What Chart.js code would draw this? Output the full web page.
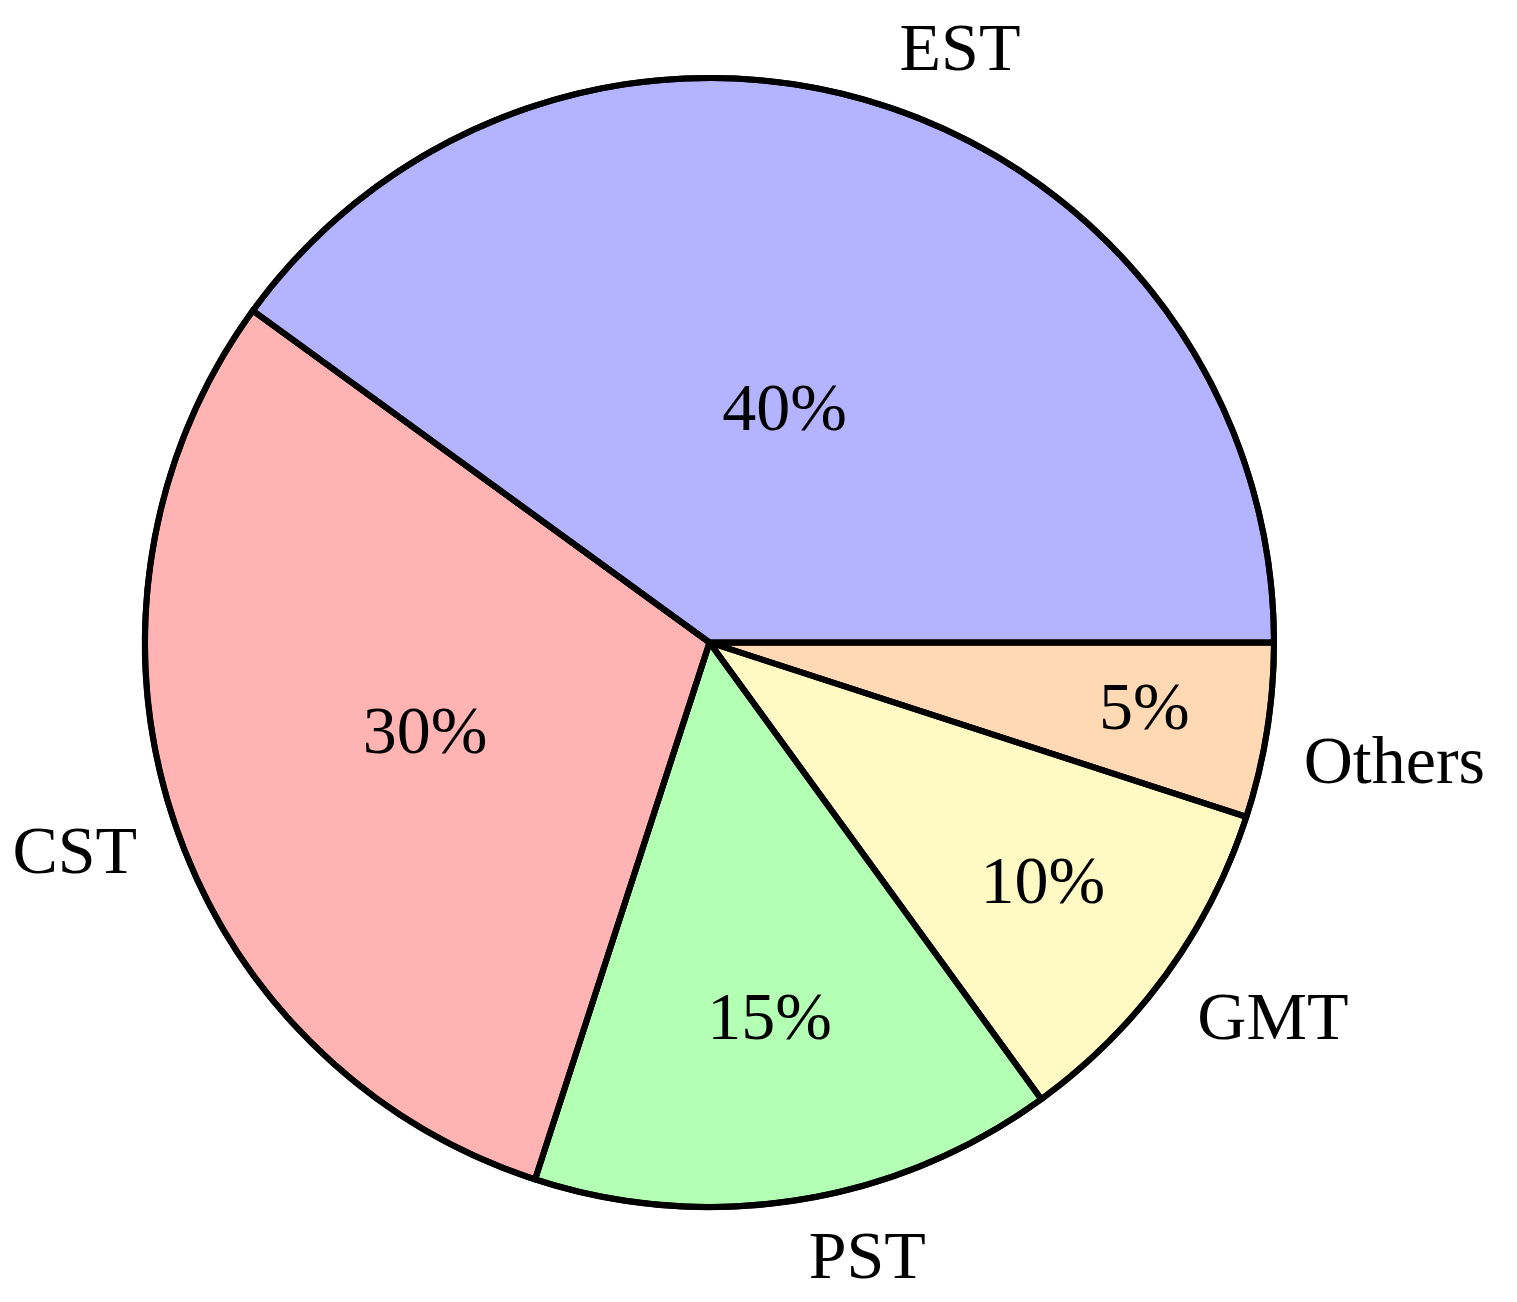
<!DOCTYPE html>
<html>
<head>
<meta charset="utf-8">
<script src="https://cdn.jsdelivr.net/npm/chart.js@4/dist/chart.umd.min.js"></script>
<style>
  html, body { margin: 0; padding: 0; background: #fff; }
  #wrap { width: 1517px; height: 1302px; }
</style>
</head>
<body>
<div id="wrap"><canvas id="pie"></canvas></div>
<script>
// slices listed clockwise from 3 o'clock (reference runs counter-clockwise from EST)
const zones = ['Others', 'GMT', 'PST', 'CST', 'EST'];
const shares = [5, 10, 15, 30, 40];
const fills = ['#ffd9b3', '#fff9c4', '#b3ffb3', '#ffb3b3', '#b3b3ff'];

const FONT = '"Liberation Serif", "DejaVu Serif", serif';

const pieLabels = {
  id: 'pieLabels',
  afterDatasetsDraw(chart) {
    const ctx = chart.ctx;
    const arcs = chart.getDatasetMeta(0).data;
    ctx.save();
    ctx.fillStyle = '#000';
    ctx.font = '68px ' + FONT;
    arcs.forEach((arc, i) => {
      const { x, y, startAngle, endAngle, outerRadius } = arc.getProps(['x', 'y', 'startAngle', 'endAngle', 'outerRadius'], true);
      const mid = (startAngle + endAngle) / 2;
      const c = Math.cos(mid), s = Math.sin(mid);

      // percentage inside the slice
      const k = 0.83 - shares[i] / 100;
      ctx.textAlign = 'center';
      ctx.textBaseline = 'middle';
      ctx.fillText(shares[i] + '%', x + c * outerRadius * k, y + s * outerRadius * k);

      // category name outside, anchored at the corner facing the pie
      const px = x + c * outerRadius * 1.055;
      const py = y + s * outerRadius * 1.055;
      ctx.textAlign = c >= 0 ? 'left' : 'right';
      const tx = px + (c >= 0 ? 6 : -6);
      if (s > 0) {
        ctx.textBaseline = 'top';
        ctx.fillText(zones[i], tx, py - 5);
      } else {
        ctx.textBaseline = 'alphabetic';
        ctx.fillText(zones[i], tx, py - 6);
      }
    });
    ctx.restore();
  }
};

new Chart(document.getElementById('pie'), {
  type: 'pie',
  data: {
    labels: zones,
    datasets: [
      {
        data: shares,
        backgroundColor: fills,
        borderColor: '#000',
        borderWidth: 6,
        borderJoinStyle: 'round'
      }
    ]
  },
  options: {
    responsive: true,
    maintainAspectRatio: false,
    animation: false,
    rotation: 90,
    layout: {
      padding: { left: 142, top: 75, right: 240, bottom: 92 }
    },
    plugins: {
      legend: { display: false },
      tooltip: { enabled: false }
    }
  },
  plugins: [
    pieLabels,
    {
      // redraw the separators so they keep full width under the next slice's fill
      id: 'edges',
      afterDatasetDraw(chart) {
        const ctx = chart.ctx;
        ctx.save();
        ctx.strokeStyle = '#000';
        ctx.lineWidth = 6;
        ctx.lineCap = 'butt';
        chart.getDatasetMeta(0).data.forEach(arc => {
          const { x, y, startAngle, outerRadius } = arc.getProps(['x', 'y', 'startAngle', 'outerRadius'], true);
          ctx.beginPath();
          ctx.moveTo(x, y);
          ctx.lineTo(x + Math.cos(startAngle) * outerRadius, y + Math.sin(startAngle) * outerRadius);
          ctx.stroke();
        });
        const a = chart.getDatasetMeta(0).data[0];
        ctx.beginPath();
        ctx.arc(a.x, a.y, a.outerRadius, 0, Math.PI * 2);
        ctx.stroke();
        ctx.restore();
      }
    }
  ]
});
</script>
</body>
</html>
